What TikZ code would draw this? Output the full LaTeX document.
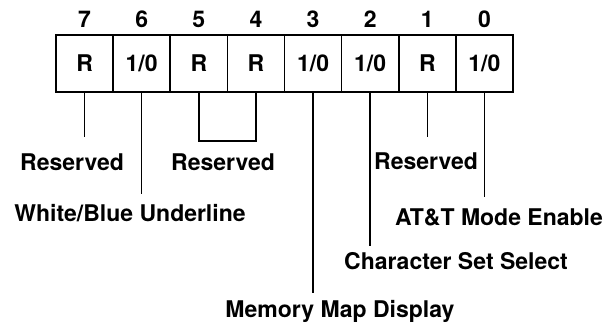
\documentclass[tikz,border=0pt]{standalone}
\usepackage{fontspec}
\setmainfont{TeX Gyre Heros}
\usetikzlibrary{positioning}
\newcommand{\regfont}{\fontsize{23}{27}\selectfont\bfseries}
\newcommand{\io}{1/0}
\tikzset{
	bitcell/.style = {draw,line width=1.6pt,minimum width=57.125pt,minimum height=57pt,inner sep=0pt,text height=16pt,text depth=0pt,font=\regfont},
	bitnum/.style = {inner sep=0pt,anchor=base,font=\regfont},
	fieldname/.style = {inner sep=0pt,anchor=base,font=\regfont},
	lead/.style = {line width=1.5pt}
}

\begin{document}
\begin{tikzpicture}[x=1pt,y=-1pt]
	\useasboundingbox (0,0) rectangle (606,325);

	% register cells, bit 7 on the left
	\foreach \b/\v [count=\i from 0] in {7/R,6/\io,5/R,4/R,3/\io,2/\io,1/R,0/\io}{
		\node[bitcell] (b\b) at (56+57.125*\i+28.5625, 63.5) {\v};
		\node[bitnum] (n\b) at ([yshift=7pt]b\b.north) {\b};
	}

	% field names
	\node[fieldname] (r7) at (72,170) {Reserved};
	\node[fieldname] (r54) at (223,170) {Reserved};
	\node[fieldname] (r1) at (426,169) {Reserved};
	\node[fieldname] (wb) at (130,221) {White/Blue Underline};
	\node[fieldname] (att) at (499,225) {AT\&T Mode Enable};
	\node[fieldname] (css) at (456,269) {Character Set Select};
	\node[fieldname] (mmd) at (340,317) {Memory Map Display};

	% lead ends
	\coordinate (e7) at (b7.south |- 0,137);
	\coordinate (e6) at (b6.south |- 0,194);
	\coordinate (k54) at (227,141);
	\coordinate (e3) at (b3.south |- 0,293);
	\coordinate (e2) at (b2.south |- 0,246);
	\coordinate (e1) at (b1.south |- 0,137);
	\coordinate (e0) at (b0.south |- 0,197);

	\draw[lead] (b7.south) -- (e7);
	\draw[lead] (b6.south) -- (e6);
	\draw[lead] (b5.south) |- (k54) -| (b4.south);
	\draw[lead] (b3.south) -- (e3);
	\draw[lead] (b2.south) -- (e2);
	\draw[lead] (b1.south) -- (e1);
	\draw[lead] (b0.south) -- (e0);
\end{tikzpicture}
\end{document}
